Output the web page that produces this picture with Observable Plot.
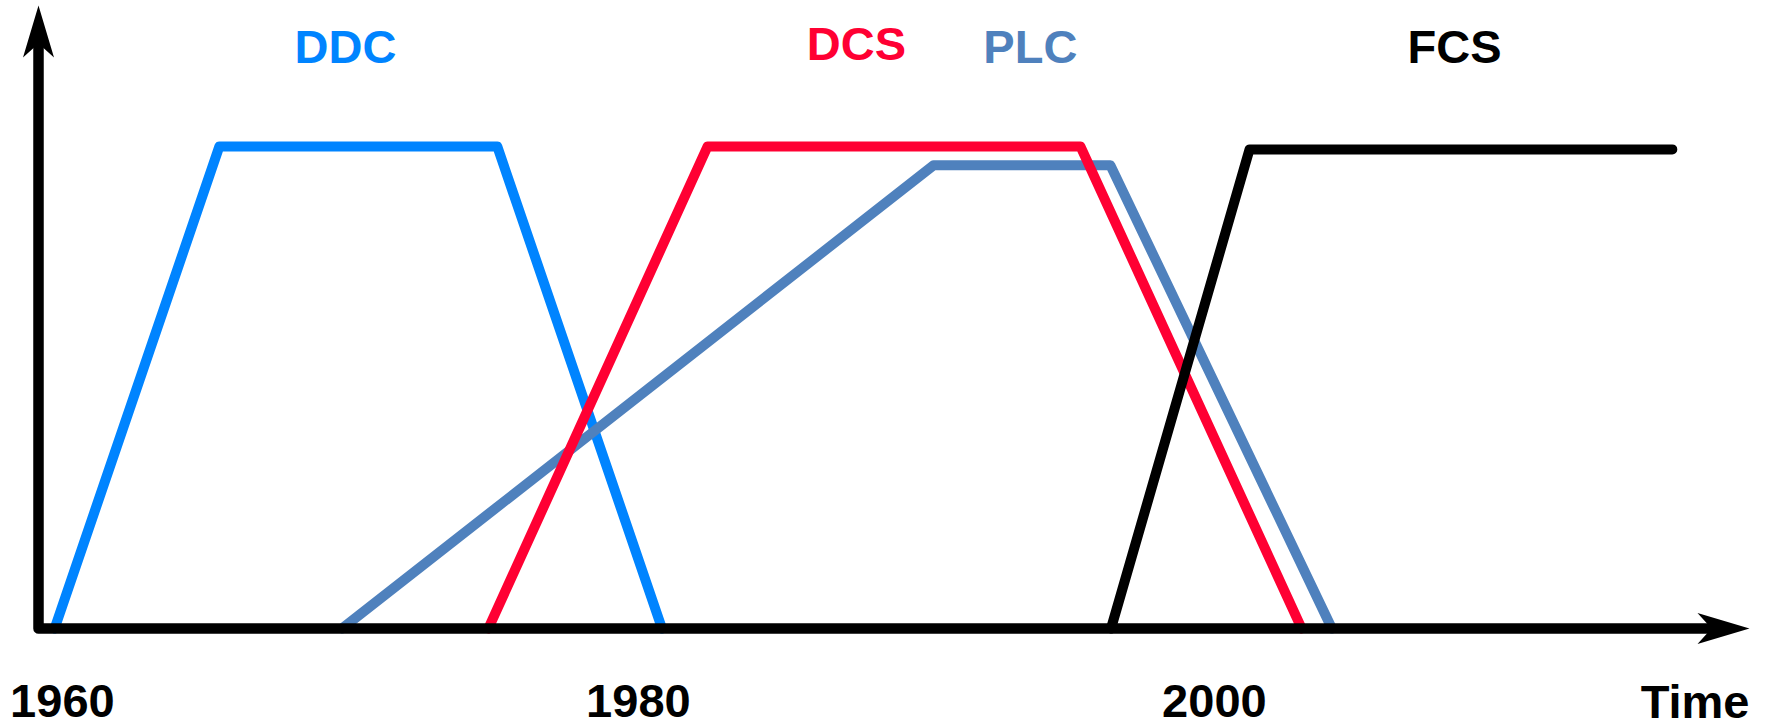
<!DOCTYPE html>
<html>
<head>
<meta charset="utf-8">
<script src="https://cdn.jsdelivr.net/npm/d3@7"></script>
<script src="https://cdn.jsdelivr.net/npm/@observablehq/plot@0.6"></script>
<style>
html, body { margin: 0; padding: 0; background: #ffffff; }
</style>
</head>
<body>
<div id="chart"></div>
<script>
// ---- data ----
const seriesNames = ["DDC", "DCS", "PLC", "FCS"];
const seriesColors = ["#0084ff", "#ff0033", "#4f81bd", "#000000"];

const ddcYears = [1959.73, 1965.45, 1975.10, 1980.82];
const ddcLevels = [0, 1, 1, 0];
const dcsYears = [1974.79, 1982.40, 1995.35, 2003.03];
const dcsLevels = [0, 1, 1, 0];
const plcYears = [1969.71, 1990.25, 1996.39, 2004.08];
const plcLevels = [0, 0.961, 0.961, 0];
const fcsYears = [1996.41, 2001.22, 2015.90];
const fcsLevels = [0, 0.994, 0.994];

const labelYears = [1969.83, 1987.57, 1993.61, 2008.34];
const labelLevels = [1.174, 1.180, 1.174, 1.174];

const tickYears = [1960, 1980, 2000];
const axisTitle = "Time";

const xDomain = [1959.17, 2018.58];
const yDomain = [0, 1.2925];

// ---- build tables ----
const W = 1767, H = 724;
const mL = 38, mR = 18, mT = 5, mB = 96;
const yPerPx = (yDomain[1] - yDomain[0]) / (H - mT - mB);
const xPerPx = (xDomain[1] - xDomain[0]) / (W - mL - mR);

function series(years, levels) {
  return years.map((x, i) => ({x, y: levels[i]}));
}
const lines = {
  DDC: series(ddcYears, ddcLevels),
  DCS: series(dcsYears, dcsLevels),
  PLC: series(plcYears, plcLevels),
  FCS: series(fcsYears, fcsLevels)
};
const colorOf = Object.fromEntries(seriesNames.map((n, i) => [n, seriesColors[i]]));
const labels = seriesNames.map((name, i) => ({name, x: labelYears[i], y: labelLevels[i], color: seriesColors[i]}));

const axisPath = [
  {x: xDomain[0], y: yDomain[1] - 30 * yPerPx},
  {x: xDomain[0], y: 0},
  {x: xDomain[1] - 30 * xPerPx, y: 0}
];
const arrowTips = [
  {x: xDomain[0], y: yDomain[1], rot: 0},
  {x: xDomain[1], y: 0, rot: 90}
];

const arrowHead = {
  draw(ctx) {
    ctx.moveTo(0, 0);
    ctx.lineTo(15.5, 52);
    ctx.lineTo(0, 38);
    ctx.lineTo(-15.5, 52);
    ctx.closePath();
  }
};

const lineOpts = (name) => ({
  x: "x", y: "y", stroke: colorOf[name], strokeWidth: 10,
  strokeLinejoin: "round", strokeLinecap: "round"
});

const font = "'Liberation Sans', Arial, Helvetica, sans-serif";

const chart = Plot.plot({
  width: W,
  height: H,
  marginLeft: mL,
  marginRight: mR,
  marginTop: mT,
  marginBottom: mB,
  style: {fontFamily: font, background: "#ffffff", overflow: "visible"},
  x: {domain: xDomain},
  y: {domain: yDomain, axis: null},
  color: {type: "identity"},
  marks: [
    Plot.line(lines.DDC, lineOpts("DDC")),
    Plot.line(lines.PLC, lineOpts("PLC")),
    Plot.line(lines.DCS, lineOpts("DCS")),
    Plot.line(lines.FCS, lineOpts("FCS")),
    Plot.line(axisPath, {x: "x", y: "y", stroke: "#000000", strokeWidth: 10.5,
      strokeLinejoin: "round", strokeLinecap: "butt"}),
    Plot.dot(arrowTips, {x: "x", y: "y", rotate: "rot", symbol: arrowHead, r: 1,
      fill: "#000000", stroke: "none"}),
    Plot.axisX(tickYears, {tickSize: 0, tickPadding: 55, fontSize: 47, fontWeight: "bold",
      fill: "#000000", tickFormat: (d) => String(d), label: null}),
    Plot.text([axisTitle], {x: xDomain[1], y: 0, text: (d) => d, dy: 89, lineAnchor: "bottom",
      textAnchor: "end", fontSize: 47, fontWeight: "bold", fill: "#000000"}),
    Plot.text(labels, {x: "x", y: "y", text: "name", fill: "color", lineAnchor: "bottom",
      fontSize: 47, fontWeight: "bold"})
  ]
});
document.getElementById("chart").appendChild(chart);
</script>
</body>
</html>
